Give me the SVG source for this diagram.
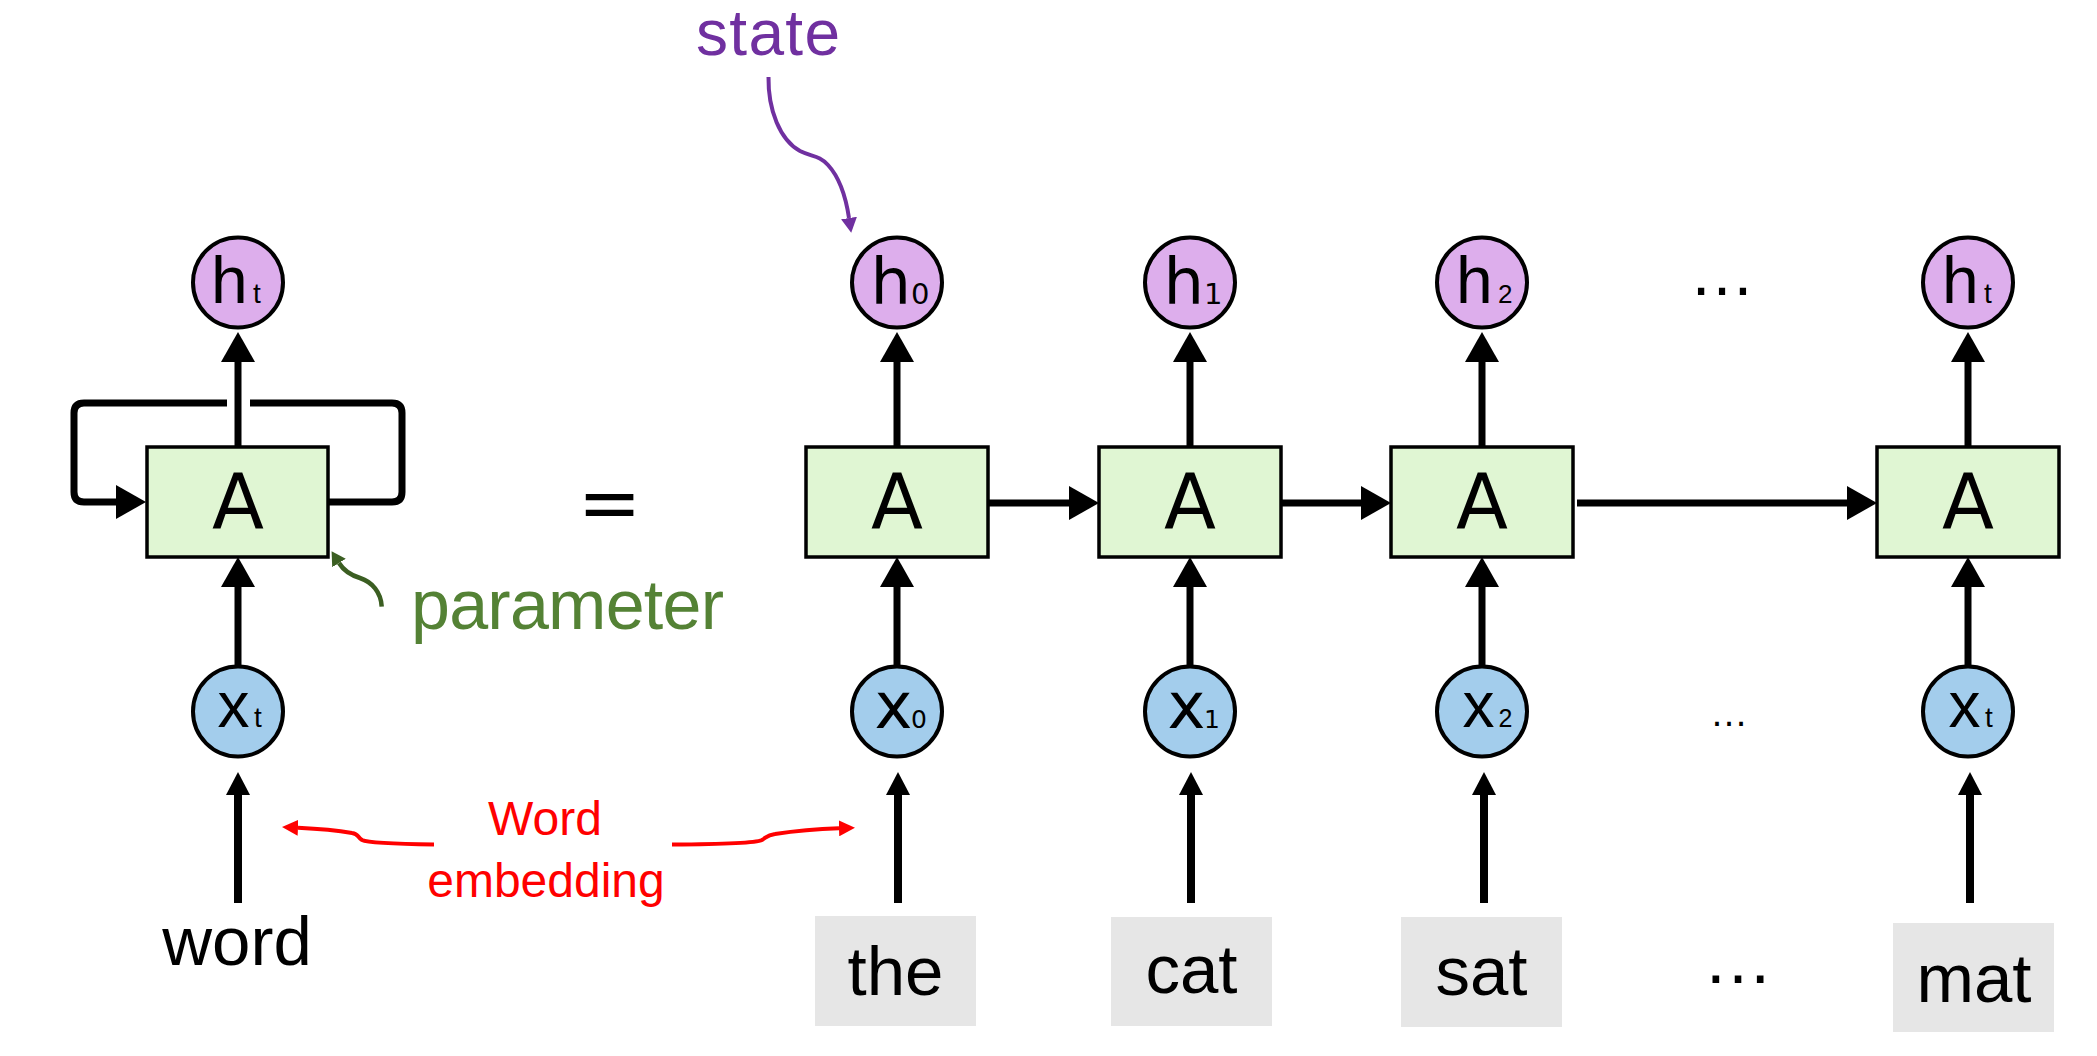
<svg xmlns="http://www.w3.org/2000/svg" width="2097" height="1056" viewBox="0 0 2097 1056">
<style>
.box{fill:#e0f6d3;stroke:#000;stroke-width:3.5}
.hc{fill:#ddaeec;stroke:#000;stroke-width:4}
.xc{fill:#a3cdec;stroke:#000;stroke-width:4}
.wb{fill:#e6e6e6}
.ln{fill:none;stroke:#000;stroke-width:7}
.lw{fill:none;stroke:#000;stroke-width:8}
.dj{font-family:"DejaVu Sans",sans-serif;fill:#000}
.lib{font-family:"Liberation Sans",Arial,sans-serif;fill:#000}
.A{font-family:"DejaVu Sans",sans-serif;font-size:76px;text-anchor:middle;fill:#000}
.word{font-family:"Liberation Sans",Arial,sans-serif;font-size:69px;text-anchor:middle;fill:#000}
</style>
<defs>
<marker id="ab" viewBox="0 0 30 34" refX="0" refY="17" markerWidth="30" markerHeight="34" markerUnits="userSpaceOnUse" orient="auto"><path d="M0,0 L30,17 L0,34 z" fill="#000"/></marker>
<marker id="as" viewBox="0 0 23 24" refX="0" refY="12" markerWidth="23" markerHeight="24" markerUnits="userSpaceOnUse" orient="auto"><path d="M0,0 L23,12 L0,24 z" fill="#000"/></marker>
<marker id="ar" viewBox="0 0 16 16" refX="0" refY="8" markerWidth="16" markerHeight="16" markerUnits="userSpaceOnUse" orient="auto"><path d="M0,0 L16,8 L0,16 z" fill="#ff0000"/></marker>
<marker id="ap" viewBox="0 0 15 16" refX="0" refY="8" markerWidth="15" markerHeight="16" markerUnits="userSpaceOnUse" orient="auto"><path d="M0,0 L15,8 L0,16 z" fill="#7030a0"/></marker>
<marker id="ag" viewBox="0 0 14 16" refX="0" refY="8" markerWidth="14" markerHeight="16" markerUnits="userSpaceOnUse" orient="auto"><path d="M0,0 L14,8 L0,16 z" fill="#3b5e22"/></marker>
</defs>
<rect width="2097" height="1056" fill="#fff"/>

<g id="connectors">
  <!-- left folded RNN -->
  <path class="ln" d="M238,447 V362" marker-end="url(#ab)"/>
  <path class="ln" d="M238,666 V587" marker-end="url(#ab)"/>
  <path class="lw" d="M238,903 V795" marker-end="url(#as)"/>
  <path class="ln" d="M227,403 H84 Q74,403 74,413 V492 Q74,502 84,502 H116" marker-end="url(#ab)"/>
  <path class="ln" d="M250,403 H392 Q402,403 402,413 V492 Q402,502 392,502 H329"/>
  <!-- column 0 -->
  <path class="ln" d="M897,447 V362" marker-end="url(#ab)"/>
  <path class="ln" d="M897,666 V587" marker-end="url(#ab)"/>
  <path class="lw" d="M898,903 V795" marker-end="url(#as)"/>
  <!-- column 1 -->
  <path class="ln" d="M1190,447 V362" marker-end="url(#ab)"/>
  <path class="ln" d="M1190,666 V587" marker-end="url(#ab)"/>
  <path class="lw" d="M1191,903 V795" marker-end="url(#as)"/>
  <!-- column 2 -->
  <path class="ln" d="M1482,447 V362" marker-end="url(#ab)"/>
  <path class="ln" d="M1482,666 V587" marker-end="url(#ab)"/>
  <path class="lw" d="M1484,903 V795" marker-end="url(#as)"/>
  <!-- column t -->
  <path class="ln" d="M1968,447 V362" marker-end="url(#ab)"/>
  <path class="ln" d="M1968,666 V587" marker-end="url(#ab)"/>
  <path class="lw" d="M1970,903 V795" marker-end="url(#as)"/>
  <!-- horizontal -->
  <path class="ln" d="M988,503 H1069" marker-end="url(#ab)"/>
  <path class="ln" d="M1281,503 H1361" marker-end="url(#ab)"/>
  <path class="ln" d="M1577,503 H1847" marker-end="url(#ab)"/>
  <!-- annotations -->
  <path d="M434,844.5 C400,844 368,843 362,840 C357,837 359,834 352,833 C335,830 315,828.5 298,827.7" fill="none" stroke="#ff0000" stroke-width="4" marker-end="url(#ar)"/>
  <path d="M672,844.5 C710,844.3 756,843 762,840 C767,837 767,835 775,834 C795,831 818,829 839,828.3" fill="none" stroke="#ff0000" stroke-width="4" marker-end="url(#ar)"/>
  <path d="M768.5,77 C768,110 780,140 800,151 C812,157 819,155 828,165 C840,178 846,198 849,218" fill="none" stroke="#7030a0" stroke-width="4" marker-end="url(#ap)"/>
  <path d="M381.7,606.7 C381,592 372,582 360,578 C350,575 344,571 339,563" fill="none" stroke="#3b5e22" stroke-width="4.5" marker-end="url(#ag)"/>
</g>

<g id="node-ht-left">
  <circle class="hc" cx="238" cy="282.5" r="45"/>
  <text class="lib" y="303.3"><tspan x="211" font-size="66">h</tspan><tspan x="253" font-size="28">t</tspan></text>
</g>
<g id="node-A-left">
  <rect class="box" x="147" y="447" width="181" height="110"/>
  <text class="A" x="238" y="528">A</text>
</g>
<g id="node-xt-left">
  <circle class="xc" cx="238" cy="711.5" r="45"/>
  <text class="lib" y="726.7"><tspan x="217.5" font-size="64">x</tspan><tspan x="254" font-size="28">t</tspan></text>
</g>
<g id="label-word">
  <text class="word" x="237" y="965">word</text>
</g>
<g id="equals">
  <text class="dj" x="609.7" y="529" font-size="76" text-anchor="middle">=</text>
</g>
<g id="label-parameter">
  <text class="lib" x="411" y="629.3" font-size="70" style="fill:#548235" textLength="313">parameter</text>
</g>
<g id="label-state">
  <text class="lib" x="696" y="55" font-size="64" style="fill:#7030a0" textLength="144">state</text>
</g>
<g id="label-word-embedding">
  <text class="lib" x="545" y="835" font-size="48" text-anchor="middle" style="fill:#ff0000">Word</text>
  <text class="lib" x="546" y="897" font-size="48" text-anchor="middle" style="fill:#ff0000">embedding</text>
</g>

<!-- column 0 -->
<g id="node-h0">
  <circle class="hc" cx="897" cy="282.5" r="45"/>
  <text class="dj" y="304"><tspan x="870.5" font-size="64">h</tspan><tspan x="911" font-size="29">0</tspan></text>
</g>
<g id="node-A0">
  <rect class="box" x="806" y="447" width="182" height="110"/>
  <text class="A" x="897" y="528">A</text>
</g>
<g id="node-x0">
  <circle class="xc" cx="897" cy="711.5" r="45"/>
  <text class="dj" y="728.3"><tspan x="874.4" font-size="64">x</tspan><tspan x="911" font-size="25">0</tspan></text>
</g>
<g id="word-the">
  <rect class="wb" x="815" y="916" width="161" height="110"/>
  <text class="word" x="895.5" y="995">the</text>
</g>

<!-- column 1 -->
<g id="node-h1">
  <circle class="hc" cx="1190" cy="282.5" r="45"/>
  <text class="dj" y="304"><tspan x="1163.5" font-size="64">h</tspan><tspan x="1204" font-size="29">1</tspan></text>
</g>
<g id="node-A1">
  <rect class="box" x="1099" y="447" width="182" height="110"/>
  <text class="A" x="1190" y="528">A</text>
</g>
<g id="node-x1">
  <circle class="xc" cx="1190" cy="711.5" r="45"/>
  <text class="dj" y="728.3"><tspan x="1167.4" font-size="64">x</tspan><tspan x="1204" font-size="25">1</tspan></text>
</g>
<g id="word-cat">
  <rect class="wb" x="1111" y="917" width="161" height="109"/>
  <text class="word" x="1191.5" y="993">cat</text>
</g>

<!-- column 2 -->
<g id="node-h2">
  <circle class="hc" cx="1482" cy="282.5" r="45"/>
  <text class="lib" y="303.3"><tspan x="1456" font-size="66">h</tspan><tspan x="1498" font-size="26">2</tspan></text>
</g>
<g id="node-A2">
  <rect class="box" x="1391" y="447" width="182" height="110"/>
  <text class="A" x="1482" y="528">A</text>
</g>
<g id="node-x2">
  <circle class="xc" cx="1482" cy="711.5" r="45"/>
  <text class="lib" y="727.3"><tspan x="1462.5" font-size="64">x</tspan><tspan x="1498.5" font-size="25">2</tspan></text>
</g>
<g id="word-sat">
  <rect class="wb" x="1401" y="917" width="161" height="110"/>
  <text class="word" x="1481.5" y="995">sat</text>
</g>

<!-- ellipses -->
<g id="dots">
  <text class="lib" x="1722" y="294.5" font-size="66" text-anchor="middle">…</text>
  <text class="lib" x="1729" y="726" font-size="38" text-anchor="middle">…</text>
  <text class="lib" x="1738" y="983" font-size="70" text-anchor="middle">…</text>
</g>

<!-- column t -->
<g id="node-ht">
  <circle class="hc" cx="1968" cy="282.5" r="45"/>
  <text class="lib" y="303.3"><tspan x="1942" font-size="66">h</tspan><tspan x="1984" font-size="28">t</tspan></text>
</g>
<g id="node-At">
  <rect class="box" x="1877" y="447" width="182" height="110"/>
  <text class="A" x="1968" y="528">A</text>
</g>
<g id="node-xt">
  <circle class="xc" cx="1968" cy="711.5" r="45"/>
  <text class="lib" y="727.3"><tspan x="1948.5" font-size="64">x</tspan><tspan x="1985" font-size="28">t</tspan></text>
</g>
<g id="word-mat">
  <rect class="wb" x="1893" y="923" width="161" height="109"/>
  <text class="word" x="1974" y="1001.7">mat</text>
</g>
</svg>
